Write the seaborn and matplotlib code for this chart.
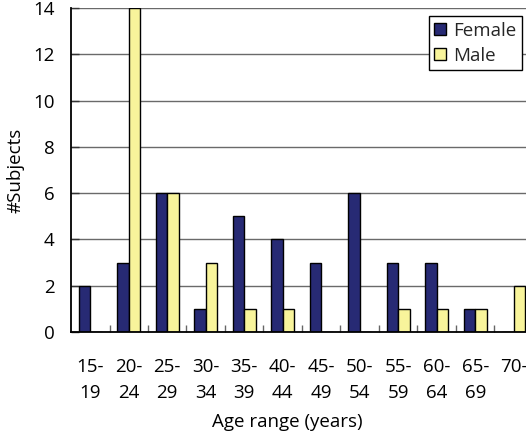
import matplotlib
matplotlib.use("Agg")
import matplotlib.pyplot as plt
import seaborn as sns
import pandas as pd
from matplotlib.ticker import FixedLocator

# Age groups and number of subjects per sex
age_ranges = ["15-\n19", "20-\n24", "25-\n29", "30-\n34", "35-\n39", "40-\n44",
              "45-\n49", "50-\n54", "55-\n59", "60-\n64", "65-\n69", "70-"]
female = [2, 3, 6, 1, 5, 4, 3, 6, 3, 3, 1, 0]
male = [0, 14, 6, 3, 1, 1, 0, 0, 1, 1, 1, 2]
sexes = ["Female", "Male"]
y_ticks = [0, 2, 4, 6, 8, 10, 12, 14]

sns.set_theme(style="white")
plt.rcParams["font.family"] = ["Open Sans", "DejaVu Sans"]

df = pd.DataFrame({
    "Age": age_ranges * 2,
    "Subjects": female + male,
    "Sex": ["Female"] * len(female) + ["Male"] * len(male),
})

fig = plt.figure(figsize=(5.26, 4.33), dpi=100)
ax = fig.add_axes([71 / 526, 101 / 433, 462 / 526, 324 / 433])

sns.barplot(data=df, x="Age", y="Subjects", hue="Sex", hue_order=sexes,
            palette={"Female": "#272a74", "Male": "#f8f49b"},
            width=0.6, edgecolor="black", linewidth=1.0, saturation=1,
            ax=ax)

fs = 13.5
ax.set_ylim(0, 14)
ax.set_yticks(y_ticks)
ax.yaxis.grid(True, color="#6a6a6a", linewidth=1.0)
ax.xaxis.grid(False)
ax.set_axisbelow(True)

for side in ("top", "right"):
    ax.spines[side].set_visible(False)
for side in ("left", "bottom"):
    ax.spines[side].set_visible(True)
    ax.spines[side].set_color("black")
    ax.spines[side].set_linewidth(1.3)

ax.tick_params(axis="y", direction="in", length=6, width=1, color="#333333",
               pad=12, labelsize=fs, labelcolor="black", left=True)
ax.xaxis.set_minor_locator(FixedLocator([i + 0.5 for i in range(len(age_ranges) - 1)]))
ax.tick_params(axis="x", which="major", length=0, pad=19, labelsize=fs,
               labelcolor="black")
ax.tick_params(axis="x", which="minor", direction="in", length=5, width=1,
               color="#666666", bottom=True)
for lab in ax.get_xticklabels():
    lab.set_linespacing(1.55)

ax.set_xlabel("Age range (years)", fontsize=fs, color="black")
ax.xaxis.set_label_coords(0.468, -0.25)
ax.set_ylabel("#Subjects", fontsize=fs, color="black")
ax.yaxis.set_label_coords(-0.10, 0.5)

handles, labels = ax.get_legend_handles_labels()
ax.legend(handles, labels, loc="upper right",
          bbox_to_anchor=(522 / 526, 1 - 16 / 433), bbox_transform=fig.transFigure,
          frameon=True, fancybox=False, edgecolor="black", framealpha=1,
          fontsize=fs, handlelength=0.6, handleheight=0.6, handletextpad=0.4,
          labelspacing=0.38, borderpad=0.3, borderaxespad=0)
ax.get_legend().get_frame().set_linewidth(1.0)

fig.savefig("out.png", dpi=100)
